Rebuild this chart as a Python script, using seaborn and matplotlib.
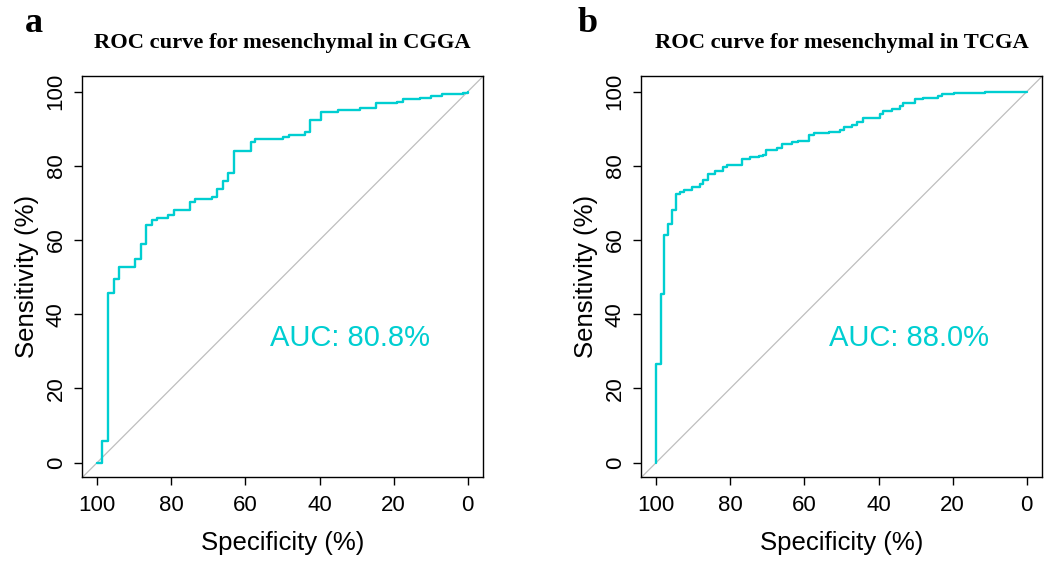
import matplotlib
matplotlib.use("Agg")
import matplotlib.pyplot as plt
import seaborn as sns
import pandas as pd

# ---- data ----
cgga_spec = [100, 98.7, 97.1, 95.6, 94.05, 89.7, 88.3, 86.8, 85.3, 83.8, 80.8, 79.4,
             77.8, 74.9, 73.5, 69.0, 67.7, 66.0, 64.6, 63.2, 58.6, 57.3, 49.9, 48.3,
             44.0, 42.5, 39.6, 35.0, 29.2, 24.8, 19.0, 17.4, 13.0, 10.0, 7.0, 1.2, 0]
cgga_sens = [0, 5.9, 45.7, 49.4, 52.6, 54.9, 59.0, 63.9, 65.5, 65.8, 66.7, 68.0,
             68.2, 70.2, 71.0, 71.7, 73.7, 75.8, 78.0, 83.9, 86.5, 87.2, 87.8, 88.2,
             89.0, 92.4, 94.4, 95.1, 95.6, 96.8, 97.3, 97.9, 98.3, 98.7, 99.3, 99.7, 100]

tcga_spec = [100, 100, 98.7, 97.8, 96.8, 95.8, 94.6, 93.5, 92.4, 90.4, 88.3, 87.4,
             86.1, 84.1, 82.0, 80.9, 76.9, 74.6, 72.3, 71.2, 70.3, 67.4, 66.0, 63.3,
             61.8, 58.8, 57.5, 53.4, 50.5, 49.4, 47.1, 45.9, 44.1, 39.7, 38.7, 36.5,
             34.3, 33.4, 30.3, 27.9, 24.0, 22.8, 19.6, 11.4, 4.8, 0]
tcga_sens = [0, 26.6, 45.5, 61.3, 64.2, 68.2, 72.5, 72.8, 73.5, 74.3, 75.0, 76.1,
             77.9, 78.6, 79.8, 80.1, 81.9, 82.4, 82.5, 83.0, 84.3, 84.8, 86.0, 86.4,
             86.7, 88.4, 88.7, 89.0, 89.6, 90.4, 91.1, 91.8, 92.9, 94.0, 94.7, 95.4,
             96.0, 96.8, 98.1, 98.4, 98.8, 99.3, 99.6, 99.8, 100, 100]

titles = ["ROC curve for mesenchymal in CGGA", "ROC curve for mesenchymal in TCGA"]
auc_labels = ["AUC: 80.8%", "AUC: 88.0%"]
panel_letters = ["a", "b"]
x_ticks = [100, 80, 60, 40, 20, 0]
y_ticks = [0, 20, 40, 60, 80, 100]

# ---- style ----
sns.set_style("white")
plt.rcParams["font.family"] = ["Liberation Sans", "DejaVu Sans"]
plt.rcParams["text.color"] = "black"
plt.rcParams["axes.labelcolor"] = "black"
plt.rcParams["xtick.color"] = "black"
plt.rcParams["ytick.color"] = "black"
plt.rcParams["axes.edgecolor"] = "black"
plt.rcParams["axes.linewidth"] = 1.0

CURVE = "#00CED1"
W, H = 1044, 565
fig = plt.figure(figsize=(W / 100, H / 100), dpi=100)

axes_px = [(82, 76, 483, 477), (641, 76, 1042, 477)]
letter_px = [(25, 32), (578, 32)]
datasets = [(cgga_spec, cgga_sens), (tcga_spec, tcga_sens)]

for i in range(2):
    l, t, r, b = axes_px[i]
    ax = fig.add_axes([l / W, 1 - b / H, (r - l) / W, (b - t) / H])
    spec, sens = datasets[i]
    df = pd.DataFrame({"Specificity": spec, "Sensitivity": sens})
    ax.axline((100, 0), (0, 100), color="#BEBEBE", lw=0.9, zorder=1)
    sns.lineplot(data=df, x="Specificity", y="Sensitivity", ax=ax, sort=False,
                 estimator=None, color=CURVE, lw=1.7, drawstyle="steps-post", zorder=3)
    ax.set_xlim(104.1, -4.1)
    ax.set_ylim(-3.9, 104.2)
    ax.set_xticks(x_ticks)
    ax.set_yticks(y_ticks)
    ax.set_xticklabels([str(v) for v in x_ticks])
    ax.set_yticklabels([str(v) for v in y_ticks], rotation=90, va="center")
    ax.tick_params(axis="both", which="major", direction="out", length=6, width=1,
                   color="black", labelsize=16, labelcolor="black", pad=7,
                   bottom=True, left=True)
    ax.tick_params(axis="y", pad=5)
    ax.set_xlabel("Specificity (%)", fontsize=18.5, labelpad=11)
    ax.set_ylabel("Sensitivity (%)", fontsize=18.5, labelpad=5)
    for s in ax.spines.values():
        s.set_visible(True)
        s.set_color("black")
        s.set_linewidth(1.0)
    ax.set_title(titles[i], fontsize=16.2, fontweight="bold", color="black",
                 family=["Liberation Serif", "DejaVu Serif"], pad=20)
    ax.text(53.4, 31.3, auc_labels[i], color=CURVE, fontsize=21, ha="left", va="baseline")
    lx, ly = letter_px[i]
    fig.text(lx / W, 1 - ly / H, panel_letters[i], fontsize=26, fontweight="bold",
             color="black", family=["Liberation Serif", "DejaVu Serif"],
             ha="left", va="baseline")

fig.savefig("out.png", dpi=100)
